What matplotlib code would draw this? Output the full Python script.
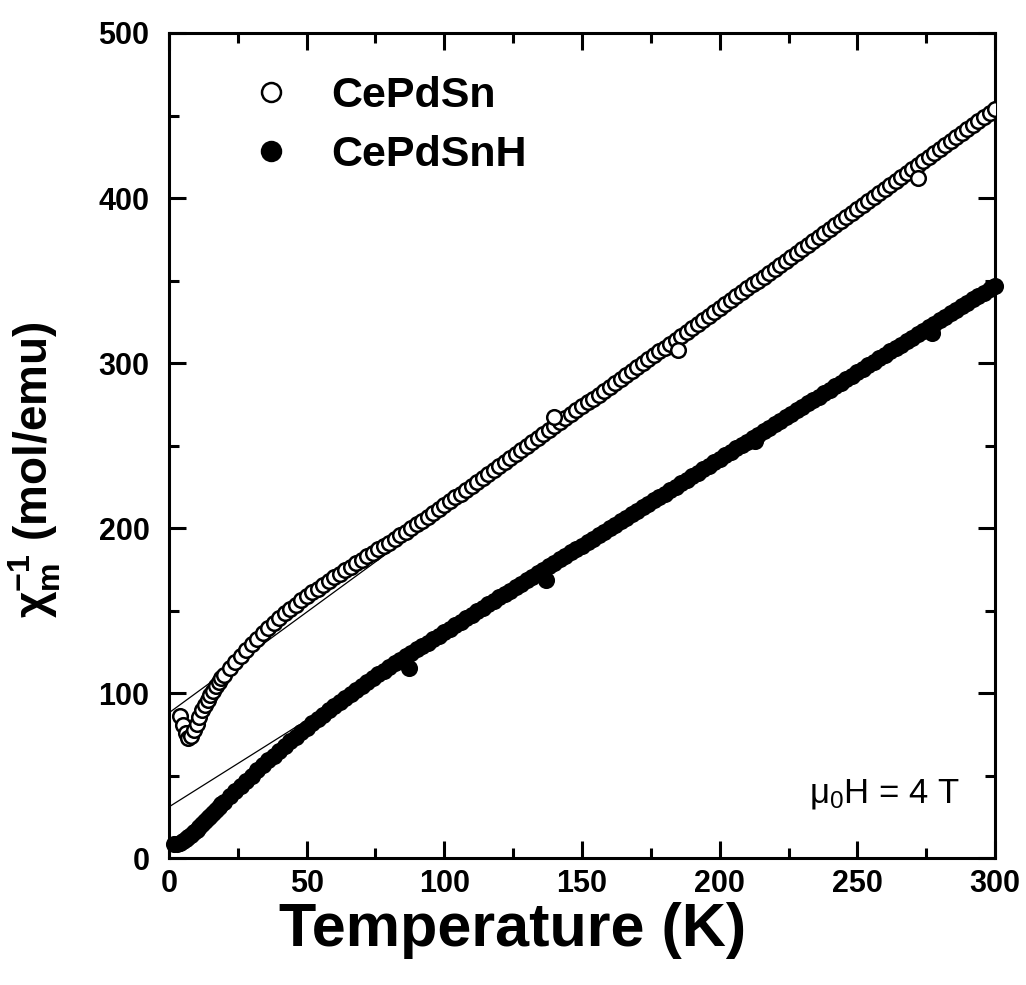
import matplotlib
matplotlib.use("Agg")
import matplotlib.pyplot as plt

plt.rcParams['font.family'] = ['Liberation Sans', 'DejaVu Sans']
plt.rcParams['mathtext.fontset'] = 'custom'
plt.rcParams['mathtext.rm'] = 'Liberation Sans'
plt.rcParams['mathtext.it'] = 'Liberation Sans'
plt.rcParams['mathtext.bf'] = 'Liberation Sans:bold'

# temperature grid (K), shared by both samples
temp = [2, 3, 4, 5, 6, 7, 8, 9, 10, 11, 12, 13, 14, 15, 16, 17, 18, 19, 20,
        22, 24, 26, 28, 30, 32, 34, 36, 38, 40, 42, 44, 46, 48, 50, 52, 54, 56, 58, 60,
        62, 64, 66, 68, 70, 72, 74, 76, 78, 80, 82, 84, 86, 88, 90, 92, 94, 96, 98, 100,
        102, 104, 106, 108, 110, 112, 114, 116, 118, 120, 122, 124, 126, 128, 130, 132, 134, 136, 138, 140,
        142, 144, 146, 148, 150, 152, 154, 156, 158, 160, 162, 164, 166, 168, 170, 172, 174, 176, 178, 180,
        182, 184, 186, 188, 190, 192, 194, 196, 198, 200, 202, 204, 206, 208, 210, 212, 214, 216, 218, 220,
        222, 224, 226, 228, 230, 232, 234, 236, 238, 240, 242, 244, 246, 248, 250, 252, 254, 256, 258, 260,
        262, 264, 266, 268, 270, 272, 274, 276, 278, 280, 282, 284, 286, 288, 290, 292, 294, 296, 298, 300]

# CePdSn: inverse susceptibility (mol/emu), starts at 4 K
temp_sn = temp[2:]
chi_sn = [86.0, 80.5, 75.5, 73.0, 74.0, 77.5, 81.5, 85.5, 89.5, 93.0, 96.0, 99.0, 101.5, 104.0, 106.5, 109.0, 111.0,
          115.0, 118.8, 122.4, 126.0, 129.5, 132.9, 136.2, 139.4, 142.5, 145.5, 148.3, 151.0, 153.6, 156.1, 158.6,
          161.0, 163.3, 165.6, 167.9, 170.2,
          172.3, 174.4, 176.5, 178.6, 180.7, 182.8, 184.9, 187.0, 189.1, 191.2, 193.4, 195.6, 197.8, 200.0, 202.2,
          204.5, 206.8, 209.1, 211.4, 213.7,
          216.1, 218.5, 220.9, 223.3, 225.7, 228.1, 230.5, 232.9, 235.3, 237.7, 240.1, 242.5, 244.9, 247.3, 249.7,
          252.1, 254.5, 256.9, 259.3, 261.7,
          264.1, 266.5, 268.9, 271.3, 273.7, 276.1, 278.4, 280.8, 283.2, 285.6, 288.0, 290.4, 292.7, 295.1, 297.5,
          299.9, 302.2, 304.6, 307.0, 309.4,
          311.7, 314.1, 316.5, 318.9, 321.3, 323.6, 326.0, 328.4, 330.8, 333.2, 335.6, 338.0, 340.4, 342.8, 345.2,
          347.6, 350.0, 352.4, 354.8, 357.2,
          359.6, 362.0, 364.4, 366.8, 369.2, 371.6, 374.0, 376.4, 378.8, 381.2, 383.6, 386.0, 388.4, 390.8, 393.2,
          395.6, 398.0, 400.5, 402.9, 405.3,
          407.7, 410.1, 412.5, 415.0, 417.4, 419.8, 422.2, 424.7, 427.1, 429.5, 431.9, 434.4, 436.8, 439.2, 441.6,
          444.1, 446.5, 448.9, 451.3, 453.7]
temp_sn_extra = [140, 185, 272]
chi_sn_extra = [267.0, 308.0, 412.0]

# CePdSnH
chi_snh = [8.5, 8.8, 9.3, 10.2, 11.3, 12.6, 14.0, 15.6, 17.2, 18.9, 20.6, 22.3, 24.0, 25.7, 27.4, 29.1, 30.8, 32.5, 34.1,
           37.4, 40.6, 43.8, 46.9, 50.0, 53.1, 56.2, 59.2, 62.1, 65.0, 67.9, 70.7, 73.5, 76.3, 79.0, 81.7, 84.3,
           86.9, 89.5, 92.0,
           94.5, 97.0, 99.5, 102.0, 104.4, 106.7, 109.0, 111.3, 113.6, 115.9, 118.0, 120.1, 122.2, 124.3, 126.4,
           128.5, 130.6, 132.7, 134.8, 136.9,
           139.0, 141.1, 143.2, 145.3, 147.4, 149.5, 151.6, 153.7, 155.8, 157.9, 160.0, 162.1, 164.2, 166.3, 168.4,
           170.5, 172.6, 174.7, 176.8, 178.9,
           181.0, 183.1, 185.2, 187.3, 189.4, 191.5, 193.6, 195.7, 197.8, 199.9, 202.0, 204.1, 206.2, 208.3, 210.4,
           212.5, 214.6, 216.7, 218.8, 220.9,
           223.0, 225.1, 227.2, 229.3, 231.4, 233.5, 235.6, 237.7, 239.8, 241.9, 244.0, 246.1, 248.2, 250.3, 252.4,
           254.5, 256.6, 258.7, 260.8, 262.9,
           265.0, 267.1, 269.2, 271.3, 273.4, 275.5, 277.6, 279.7, 281.8, 283.9, 286.0, 288.1, 290.2, 292.3, 294.4,
           296.5, 298.6, 300.7, 302.8, 304.9,
           307.0, 309.1, 311.2, 313.3, 315.4, 317.5, 319.6, 321.7, 323.8, 325.9, 328.0, 330.1, 332.2, 334.3, 336.4,
           338.5, 340.6, 342.7, 344.8, 346.9]
temp_snh_extra = [87, 137, 213, 277]
chi_snh_extra = [115.0, 168.5, 252.5, 318.0]

# Curie-Weiss fits (end points)
fit_temp = [0, 300]
fit_sn = [88.0, 454.0]
fit_snh = [31.0, 346.0]

fig = plt.figure(figsize=(10.26, 9.85), dpi=100)
ax = fig.add_axes([0.1647, 0.1289, 0.8051, 0.8376])

ax.plot(fit_temp, fit_sn, color='black', lw=0.9, zorder=1)
ax.plot(fit_temp, fit_snh, color='black', lw=0.9, zorder=1)

ms = 10.5
mew = 1.8
ax.plot(temp_sn, chi_sn, 'o', ms=ms, mfc='white', mec='black', mew=mew, ls='none',
        label='CePdSn', zorder=3)
ax.plot(temp_sn_extra, chi_sn_extra, 'o', ms=ms, mfc='white', mec='black', mew=mew, ls='none', zorder=3)
ax.plot(temp, chi_snh, 'o', ms=ms, mfc='black', mec='black', mew=mew, ls='none',
        label='CePdSnH', zorder=3, clip_on=False)
ax.plot(temp_snh_extra, chi_snh_extra, 'o', ms=ms, mfc='black', mec='black', mew=mew, ls='none', zorder=3)

ax.set_xlim(0, 300)
ax.set_ylim(0, 500)
ax.set_xticks([0, 50, 100, 150, 200, 250, 300])
ax.set_xticks([25, 75, 125, 175, 225, 275], minor=True)
ax.set_yticks([0, 100, 200, 300, 400, 500])
ax.set_yticks([50, 150, 250, 350, 450], minor=True)
ax.tick_params(which='both', direction='in', top=True, right=True, width=2.2)
ax.tick_params(which='major', length=12, labelsize=22)
ax.tick_params(axis='y', which='major', pad=14)
ax.tick_params(axis='x', which='major', pad=8)
ax.tick_params(which='minor', length=7)
for lab in ax.get_xticklabels() + ax.get_yticklabels():
    lab.set_fontweight('bold')
for sp in ax.spines.values():
    sp.set_linewidth(2.2)

fig.text(0.5, 0.055, 'Temperature (K)', fontsize=44, fontweight='bold', ha='center', va='center')
ax.set_ylabel(r'$\mathbf{\chi_m^{-1}}$ (mol/emu)', fontsize=33, fontweight='bold')
ax.yaxis.set_label_coords(-0.128, 0.47)

ax.legend(loc='upper left', bbox_to_anchor=(0.05, 0.995), frameon=False,
          prop={'size': 31, 'weight': 'bold'}, handletextpad=0.9, labelspacing=0.45,
          markerscale=1.3, handlelength=1.0)

ax.text(0.957, 0.078, r'$\mathregular{\mu_0H}$ = 4 T', transform=ax.transAxes,
        ha='right', va='center', fontsize=25)

fig.savefig('out.png', dpi=100)
